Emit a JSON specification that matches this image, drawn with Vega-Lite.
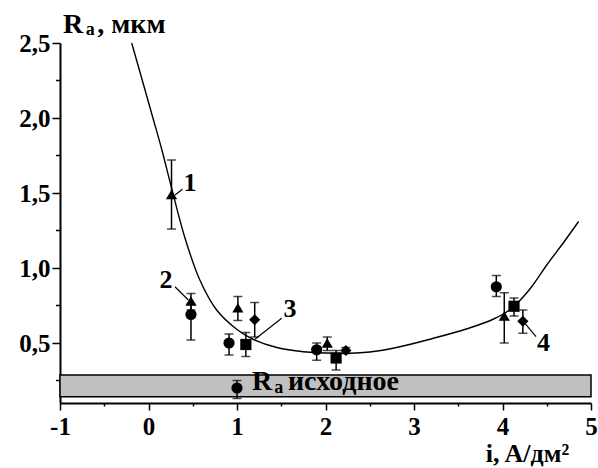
{
  "$schema": "https://vega.github.io/schema/vega-lite/v6.json",
  "width": 531,
  "height": 360,
  "autosize": {"type": "none"},
  "padding": {"left": 60, "top": 43, "right": 7, "bottom": 65},
  "background": "white",
  "config": {
    "view": {"stroke": null},
    "font": "Liberation Serif",
    "locale": {"number": {"decimal": ",", "thousands": " ", "grouping": [3], "currency": ["", ""], "minus": "-"}},
    "axis": {
      "grid": false,
      "domain": true,
      "domainColor": "black",
      "domainWidth": 2,
      "tickColor": "black",
      "tickWidth": 1.5,
      "labelOverlap": false,
      "labelFlush": false,
      "labelFont": "Liberation Serif",
      "labelFontWeight": "bold",
      "labelFontSize": 25,
      "labelColor": "black",
      "titleFont": "Liberation Serif",
      "titleFontWeight": "bold",
      "titleColor": "black"
    }
  },
  "layer": [
    {
      "data": {"values": [{"x0": -1, "x1": 5, "lo": 0.142, "hi": 0.287}]},
      "mark": {"type": "rect", "fill": "#c0c0c0", "stroke": "black", "strokeWidth": 1.5},
      "encoding": {
        "x": {
          "field": "x0", "type": "quantitative",
          "scale": {"domain": [-1, 5], "nice": false, "zero": false},
          "axis": {
            "values": [-1, -0.5, 0, 0.5, 1, 1.5, 2, 2.5, 3, 3.5, 4, 4.5, 5],
            "labelExpr": "datum.value % 1 ? '' : (datum.value < 0 ? '-' + abs(datum.value) : '' + datum.value)",
            "tickSize": {"condition": {"test": "datum.value % 1 != 0", "value": 3}, "value": 7},
            "labelPadding": 4,
            "labelFlush": false,
            "title": "i, A/дм²",
            "titleFontSize": 26,
            "titleX": 467,
            "titleY": 58,
            "titleAlign": "center",
            "titleBaseline": "alphabetic"
          }
        },
        "x2": {"field": "x1"},
        "y": {
          "field": "lo", "type": "quantitative",
          "scale": {"domain": [0.1, 2.5], "nice": false, "zero": false},
          "axis": {
            "values": [0.5, 1, 1.5, 2, 2.5],
            "format": ".1f",
            "domain": true,
            "domainColor": "black",
            "tickSize": 8,
            "labelPadding": 2,
            "title": null
          }
        },
        "y2": {"field": "hi"}
      }
    },
    {
      "data": {"values": [{"v": 0.25}, {"v": 0.75}, {"v": 1.25}, {"v": 1.75}, {"v": 2.25}]},
      "mark": {"type": "tick", "orient": "horizontal", "color": "black", "size": 4, "thickness": 1.5, "xOffset": -2, "opacity": 1},
      "encoding": {
        "x": {"datum": -1, "type": "quantitative"},
        "y": {"field": "v", "type": "quantitative"}
      }
    },
    {
      "data": {"values": [
        {"x": -0.19, "y": 2.5}, {"x": -0.06, "y": 2.23}, {"x": 0.05, "y": 2.0},
        {"x": 0.15, "y": 1.79}, {"x": 0.262, "y": 1.53}, {"x": 0.412, "y": 1.2},
        {"x": 0.58, "y": 0.92}, {"x": 0.77, "y": 0.72}, {"x": 1.0, "y": 0.59},
        {"x": 1.18, "y": 0.525}, {"x": 1.45, "y": 0.47}, {"x": 1.75, "y": 0.442},
        {"x": 2.1, "y": 0.432}, {"x": 2.5, "y": 0.44}, {"x": 2.84, "y": 0.475},
        {"x": 3.21, "y": 0.53}, {"x": 3.6, "y": 0.595}, {"x": 3.9, "y": 0.66},
        {"x": 4.1, "y": 0.73}, {"x": 4.31, "y": 0.86},
        {"x": 4.5, "y": 1.02}, {"x": 4.69, "y": 1.17}, {"x": 4.86, "y": 1.31}
      ]},
      "mark": {"type": "line", "color": "black", "strokeWidth": 1.4, "interpolate": "catmull-rom"},
      "encoding": {
        "x": {"field": "x", "type": "quantitative"},
        "y": {"field": "y", "type": "quantitative"}
      }
    },
    {
      "data": {"name": "pts", "values": [
        {"s": "tri", "x": 0.26, "y": 1.49, "lo": 1.26, "hi": 1.72},
        {"s": "tri", "x": 0.48, "y": 0.78, "lo": 0.72, "hi": 0.83},
        {"s": "tri", "x": 1.01, "y": 0.735, "lo": 0.65, "hi": 0.81},
        {"s": "tri", "x": 2.02, "y": 0.5, "lo": 0.45, "hi": 0.54},
        {"s": "tri", "x": 4.02, "y": 0.68, "lo": 0.5, "hi": 0.835},
        {"s": "circ", "x": 0.48, "y": 0.69, "lo": 0.52, "hi": 0.76},
        {"s": "circ", "x": 0.91, "y": 0.5, "lo": 0.42, "hi": 0.56},
        {"s": "circ", "x": 1.9, "y": 0.455, "lo": 0.385, "hi": 0.5},
        {"s": "circ", "x": 3.93, "y": 0.875, "lo": 0.81, "hi": 0.95},
        {"s": "circ", "x": 1.0, "y": 0.2, "lo": 0.13, "hi": 0.25},
        {"s": "sq", "x": 1.1, "y": 0.49, "lo": 0.41, "hi": 0.57},
        {"s": "sq", "x": 2.12, "y": 0.4, "lo": 0.32, "hi": 0.45},
        {"s": "sq", "x": 4.13, "y": 0.745, "lo": 0.68, "hi": 0.8},
        {"s": "dia", "x": 1.2, "y": 0.655, "lo": 0.54, "hi": 0.77},
        {"s": "dia", "x": 2.23, "y": 0.45, "lo": 0.43, "hi": 0.47},
        {"s": "dia", "x": 4.23, "y": 0.645, "lo": 0.565, "hi": 0.72}
      ]},
      "layer": [
        {
          "mark": {"type": "errorbar", "color": "black", "ticks": {"size": 9, "thickness": 1.5, "color": "black"}, "rule": {"strokeWidth": 1.5}},
          "encoding": {
            "x": {"field": "x", "type": "quantitative"},
            "y": {"field": "lo", "type": "quantitative"},
            "y2": {"field": "hi"}
          }
        },
        {
          "mark": {"type": "point", "filled": true, "color": "black", "opacity": 1, "size": 125},
          "encoding": {
            "x": {"field": "x", "type": "quantitative"},
            "y": {"field": "y", "type": "quantitative"},
            "shape": {
              "field": "s", "type": "nominal",
              "scale": {"domain": ["tri", "circ", "sq", "dia"], "range": ["triangle-up", "circle", "square", "diamond"]},
              "legend": null
            }
          }
        }
      ]
    },
    {
      "data": {"values": [
        {"x": 0.383, "y": 1.525, "x2": 0.299, "y2": 1.487},
        {"x": 0.299, "y": 0.875, "x2": 0.45, "y2": 0.787},
        {"x": 1.505, "y": 0.665, "x2": 1.203, "y2": 0.525},
        {"x": 4.379, "y": 0.542, "x2": 4.254, "y2": 0.631}
      ]},
      "mark": {"type": "rule", "color": "black", "strokeWidth": 1.2},
      "encoding": {
        "x": {"field": "x", "type": "quantitative"},
        "y": {"field": "y", "type": "quantitative"},
        "x2": {"field": "x2"},
        "y2": {"field": "y2"}
      }
    },
    {
      "data": {"values": [
        {"x": 0.469, "y": 1.567, "t": "1"},
        {"x": 0.198, "y": 0.923, "t": "2"},
        {"x": 1.599, "y": 0.73, "t": "3"},
        {"x": 4.463, "y": 0.503, "t": "4"}
      ]},
      "mark": {"type": "text", "font": "Liberation Serif", "fontWeight": "bold", "fontSize": 26, "color": "black", "align": "center", "baseline": "middle"},
      "encoding": {
        "x": {"field": "x", "type": "quantitative"},
        "y": {"field": "y", "type": "quantitative"},
        "text": {"field": "t"}
      }
    },
    {
      "data": {"values": [
        {"x": -0.966, "y": 2.567, "t": "R"},
        {"x": -0.58, "y": 2.567, "t": ", мкм"},
        {"x": 1.17, "y": 0.187, "t": "R"},
        {"x": 1.576, "y": 0.187, "t": "исходное"}
      ]},
      "mark": {"type": "text", "font": "Liberation Serif", "fontWeight": "bold", "fontSize": 28, "color": "black", "align": "left", "baseline": "alphabetic"},
      "encoding": {
        "x": {"field": "x", "type": "quantitative"},
        "y": {"field": "y", "type": "quantitative"},
        "text": {"field": "t"}
      }
    },
    {
      "data": {"values": [
        {"x": -0.71, "y": 2.553, "t": "a"},
        {"x": 1.42, "y": 0.167, "t": "a"}
      ]},
      "mark": {"type": "text", "font": "Liberation Serif", "fontWeight": "bold", "fontSize": 18, "color": "black", "align": "left", "baseline": "alphabetic"},
      "encoding": {
        "x": {"field": "x", "type": "quantitative"},
        "y": {"field": "y", "type": "quantitative"},
        "text": {"field": "t"}
      }
    }
  ]
}
